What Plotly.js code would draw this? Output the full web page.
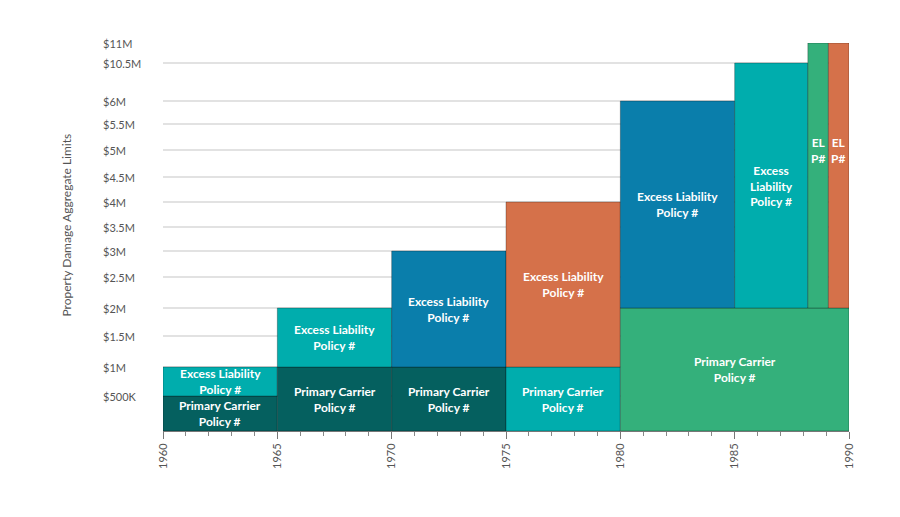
<!DOCTYPE html>
<html>
<head>
<meta charset="utf-8">
<script src="https://cdn.plot.ly/plotly-3.0.1.min.js"></script>
<style>html,body{margin:0;padding:0;background:#fff;}#chart{width:900px;height:517px;}</style>
</head>
<body>
<div id="chart"></div>
<script>
// ---- data ($M limits, years) ----
const policyLabels = [
  'Primary Carrier<br>Policy #', 'Excess Liability<br>Policy #',
  'Primary Carrier<br>Policy #', 'Excess Liability<br>Policy #',
  'Primary Carrier<br>Policy #', 'Excess Liability<br>Policy #',
  'Primary Carrier<br>Policy #', 'Excess Liability<br>Policy #',
  'Primary Carrier<br>Policy #', 'Excess Liability<br>Policy #',
  'Excess<br>Liability<br>Policy #', 'EL<br>P#', 'EL<br>P#'
];
const yearStart = [1960, 1960, 1965, 1965, 1970, 1970, 1975, 1975, 1980, 1980, 1985, 1988.2, 1989.1];
const yearEnd   = [1965, 1965, 1970, 1970, 1975, 1975, 1980, 1980, 1990, 1985, 1988.2, 1989.1, 1990];
const limitLow  = [0, 0.5, 0, 1, 0, 1, 0, 1, 0, 2, 2, 2, 2];
const limitHigh = [0.5, 1, 1, 2, 1, 3, 1, 4, 2, 6, 10.5, 11, 11];
const labelAtLimit = [null, null, null, null, null, null, null, null, null, null, null, 5, 5];

const yTickValues = [0.5, 1, 1.5, 2, 2.5, 3, 3.5, 4, 4.5, 5, 5.5, 6, 10.5, 11];
const yTickLabels = ['$500K', '$1M', '$1.5M', '$2M', '$2.5M', '$3M', '$3.5M', '$4M', '$4.5M', '$5M', '$5.5M', '$6M', '$10.5M', '$11M'];
const xTickValues = [1960, 1965, 1970, 1975, 1980, 1985, 1990];

// ---- styles ----
const C = {dark: '#05605f', teal: '#00adad', blue: '#0a7eab', orange: '#d5714a', green: '#34b07b'};
const barColors = [C.dark, C.teal, C.dark, C.teal, C.dark, C.blue, C.teal, C.orange, C.green, C.blue, C.teal, C.green, C.orange];

// ---- non-uniform limit scale used by the design (piecewise linear) ----
const scaleMoney = [0, 0.5, 1, 1.5, 2, 2.5, 3, 3.5, 4, 4.5, 5, 5.5, 6, 10.5, 11];
const scaleLevel = [0, 35, 64, 95, 123, 154, 180, 204, 229, 254, 281, 307, 330, 368, 388];
function level(m) {
  for (let i = 1; i < scaleMoney.length; i++) {
    if (m <= scaleMoney[i]) {
      const t = (m - scaleMoney[i - 1]) / (scaleMoney[i] - scaleMoney[i - 1]);
      return scaleLevel[i - 1] + t * (scaleLevel[i] - scaleLevel[i - 1]);
    }
  }
  return scaleLevel[scaleLevel.length - 1];
}

const font = 'Lato, "Open Sans", sans-serif';
const xc = yearStart.map((s, i) => (s + yearEnd[i]) / 2);
const w = yearStart.map((s, i) => yearEnd[i] - s);
const base = limitLow.map(level);
const h = limitHigh.map((v, i) => level(v) - level(limitLow[i]));

const trace = {
  type: 'bar', x: xc, y: h, base: base, width: w,
  marker: {color: barColors, line: {color: 'rgba(0,0,0,0.28)', width: 1}},
  hoverinfo: 'skip', showlegend: false
};

const annotations = [];
policyLabels.forEach((t, i) => {
  const yl = labelAtLimit[i] != null ? level(labelAtLimit[i]) : (level(limitLow[i]) + level(limitHigh[i])) / 2;
  annotations.push({x: xc[i], y: yl, xref: 'x', yref: 'y', text: '<b>' + t + '</b>', showarrow: false,
    font: {family: font, size: 12, color: '#ffffff'}, align: 'center'});
});
yTickValues.forEach((v, i) => {
  annotations.push({x: -0.0905, y: level(v), xref: 'paper', yref: 'y', text: yTickLabels[i], showarrow: false,
    xanchor: 'left', yanchor: 'middle', font: {family: font, size: 11, color: '#555'}});
});
annotations.push({x: -0.155, y: 0.53, xref: 'paper', yref: 'paper', text: 'Property Damage Aggregate Limits',
  textangle: -90, showarrow: false, font: {family: font, size: 12, color: '#555'}});

const layout = {
  width: 900, height: 517,
  margin: {l: 163, r: 51, t: 43, b: 86},
  paper_bgcolor: '#ffffff', plot_bgcolor: '#ffffff',
  barmode: 'overlay',
  xaxis: {
    range: [1960, 1990], tickvals: xTickValues, ticktext: xTickValues.map(String),
    tickangle: -90, ticks: 'outside', ticklen: 7, tickcolor: '#777', tickwidth: 1,
    minor: {dtick: 1, ticks: 'outside', ticklen: 4, tickcolor: '#888', showgrid: false},
    showline: true, linecolor: '#777', linewidth: 1, showgrid: false, zeroline: false,
    tickfont: {family: font, size: 11, color: '#555'}, fixedrange: true
  },
  yaxis: {
    range: [0, 388], tickvals: yTickValues.map(level), showticklabels: false, ticks: '',
    showgrid: true, gridcolor: '#e2e2e2', gridwidth: 1.5, zeroline: false, showline: false, fixedrange: true
  },
  annotations: annotations
};

Plotly.newPlot('chart', [trace], layout, {staticPlot: true, displayModeBar: false});
</script>
</body>
</html>
